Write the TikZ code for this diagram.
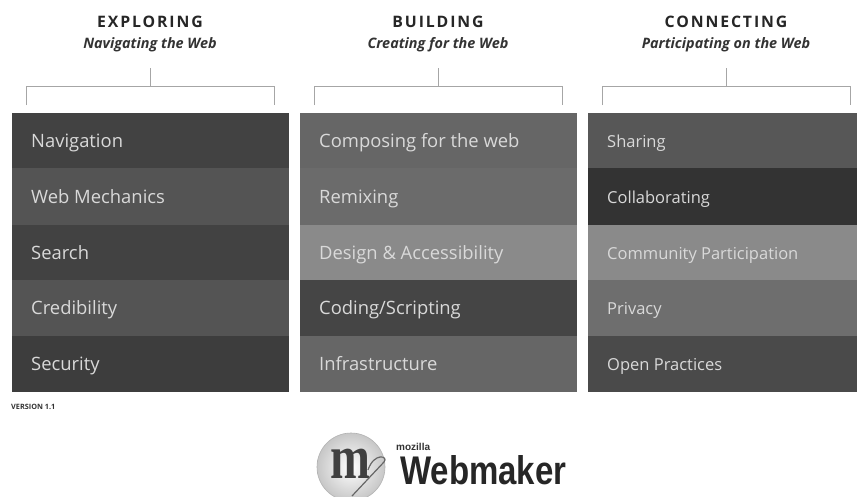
\documentclass[tikz,border=0pt]{standalone}
\usepackage{fontspec}
\setmainfont{Open Sans}
\newfontfamily\titlefont[LetterSpace=12]{Open Sans}
\newfontfamily\logofont{Liberation Sans}
\newfontfamily\logoserif{Liberation Serif}
\definecolor{rowtext}{gray}{0.85}
\tikzset{
  x=1pt,y=-1pt,
  rowbox/.style={draw=none,inner sep=0pt,anchor=north west},
  rowlabel/.style={anchor=base west,text=rowtext,inner sep=0pt},
  bigrow/.style={font=\fontsize{18.4}{20}\selectfont},
  smallrow/.style={font=\fontsize{16.5}{20}\selectfont},
  heading/.style={anchor=center,inner sep=0pt,text=black!85,font=\titlefont\fontsize{15.8}{17}\selectfont\bfseries},
  subheading/.style={anchor=center,inner sep=0pt,text=black!80,font=\fontsize{14.4}{15}\selectfont\itshape\bfseries},
  bracket/.style={draw=black!35,line width=0.9pt},
}
\newcommand{\rowat}[7]{%
  \node[rowbox,fill=#5,minimum width=#6pt,minimum height=#3pt] (#1) at #2 {};
  \node[rowlabel,#7] (#1t) at ([xshift=19pt,yshift=-6.5pt]#1.west) {#4};
}
\newcommand{\brk}[2]{%
  \coordinate (#1top) at (#2+124,68);
  \coordinate (#1mid) at (#2+124,86);
  \coordinate (#1l) at (#2,86);
  \coordinate (#1ld) at (#2,105);
  \coordinate (#1r) at (#2+248,86);
  \coordinate (#1rd) at (#2+248,105);
  \draw[bracket] (#1top) -- (#1mid);
  \draw[bracket] (#1ld) -- (#1l) -- (#1r) -- (#1rd);
}
\begin{document}
\begin{tikzpicture}
\useasboundingbox (0,0) rectangle (857,496);
\fill[white] (0,0) rectangle (857,496);
\node[heading] (h1) at (150,22) {EXPLORING};
\node[subheading] (s1) at (150,45) {Navigating the Web};
\node[heading] (h2) at (438,22) {BUILDING};
\node[subheading] (s2) at (438,45) {Creating for the Web};
\node[heading] (h3) at (726,22) {CONNECTING};
\node[subheading] (s3) at (726,45) {Participating on the Web};
\brk{a}{26}
\brk{b}{314}
\brk{c}{602}
% column 1
\rowat{a1}{(12,113)}{55}{Navigation}{black!74}{277}{bigrow}
\rowat{a2}{(12,168)}{57}{Web Mechanics}{black!67}{277}{bigrow}
\rowat{a3}{(12,225)}{55}{Search}{black!74}{277}{bigrow}
\rowat{a4}{(12,280)}{56}{Credibility}{black!67}{277}{bigrow}
\rowat{a5}{(12,336)}{56}{Security}{black!76}{277}{bigrow}
% column 2
\rowat{b1}{(300,113)}{55}{Composing for the web}{black!60}{277}{bigrow}
\rowat{b2}{(300,168)}{57}{Remixing}{black!58}{277}{bigrow}
\rowat{b3}{(300,225)}{55}{Design \& Accessibility}{black!46}{277}{bigrow}
\rowat{b4}{(300,280)}{56}{Coding/Scripting}{black!73}{277}{bigrow}
\rowat{b5}{(300,336)}{56}{Infrastructure}{black!60}{277}{bigrow}
% column 3
\rowat{c1}{(588,113)}{55}{Sharing}{black!66}{269}{smallrow}
\rowat{c2}{(588,168)}{57}{Collaborating}{black!80}{269}{smallrow}
\rowat{c3}{(588,225)}{55}{Community Participation}{black!46}{269}{smallrow}
\rowat{c4}{(588,280)}{56}{Privacy}{black!57}{269}{smallrow}
\rowat{c5}{(588,336)}{56}{Open Practices}{black!71}{269}{smallrow}
\node[anchor=west,inner sep=0pt,text=black!80,font=\fontsize{7.3}{8}\selectfont\bfseries] (ver) at (11,407) {VERSION 1.1};
% logo
\shade[inner color=white,outer color=black!22] (351,467) circle (34);
\draw[black!30,line width=0.6pt] (351,467) circle (34);
\node[inner sep=0pt,text=black!75,anchor=base,xscale=1,yscale=1.3,transform shape,font=\logoserif\fontsize{48}{50}\selectfont\bfseries] (logom) at (350,478) {m};
\draw[black!60,line width=1.2pt] (352,496) -- (384,462) .. controls (389,456) and (374,452) .. (368,470);
\node[anchor=west,inner sep=0pt,text=black!80,font=\logofont\fontsize{10}{10}\selectfont\bfseries] (moz) at (396,447) {mozilla};
\node[anchor=base west,inner sep=0pt,text=black!85,xscale=.825,transform shape,font=\logofont\fontsize{40}{42}\selectfont\bfseries] (wm) at (400,484) {Webmaker};
\end{tikzpicture}
\end{document}
